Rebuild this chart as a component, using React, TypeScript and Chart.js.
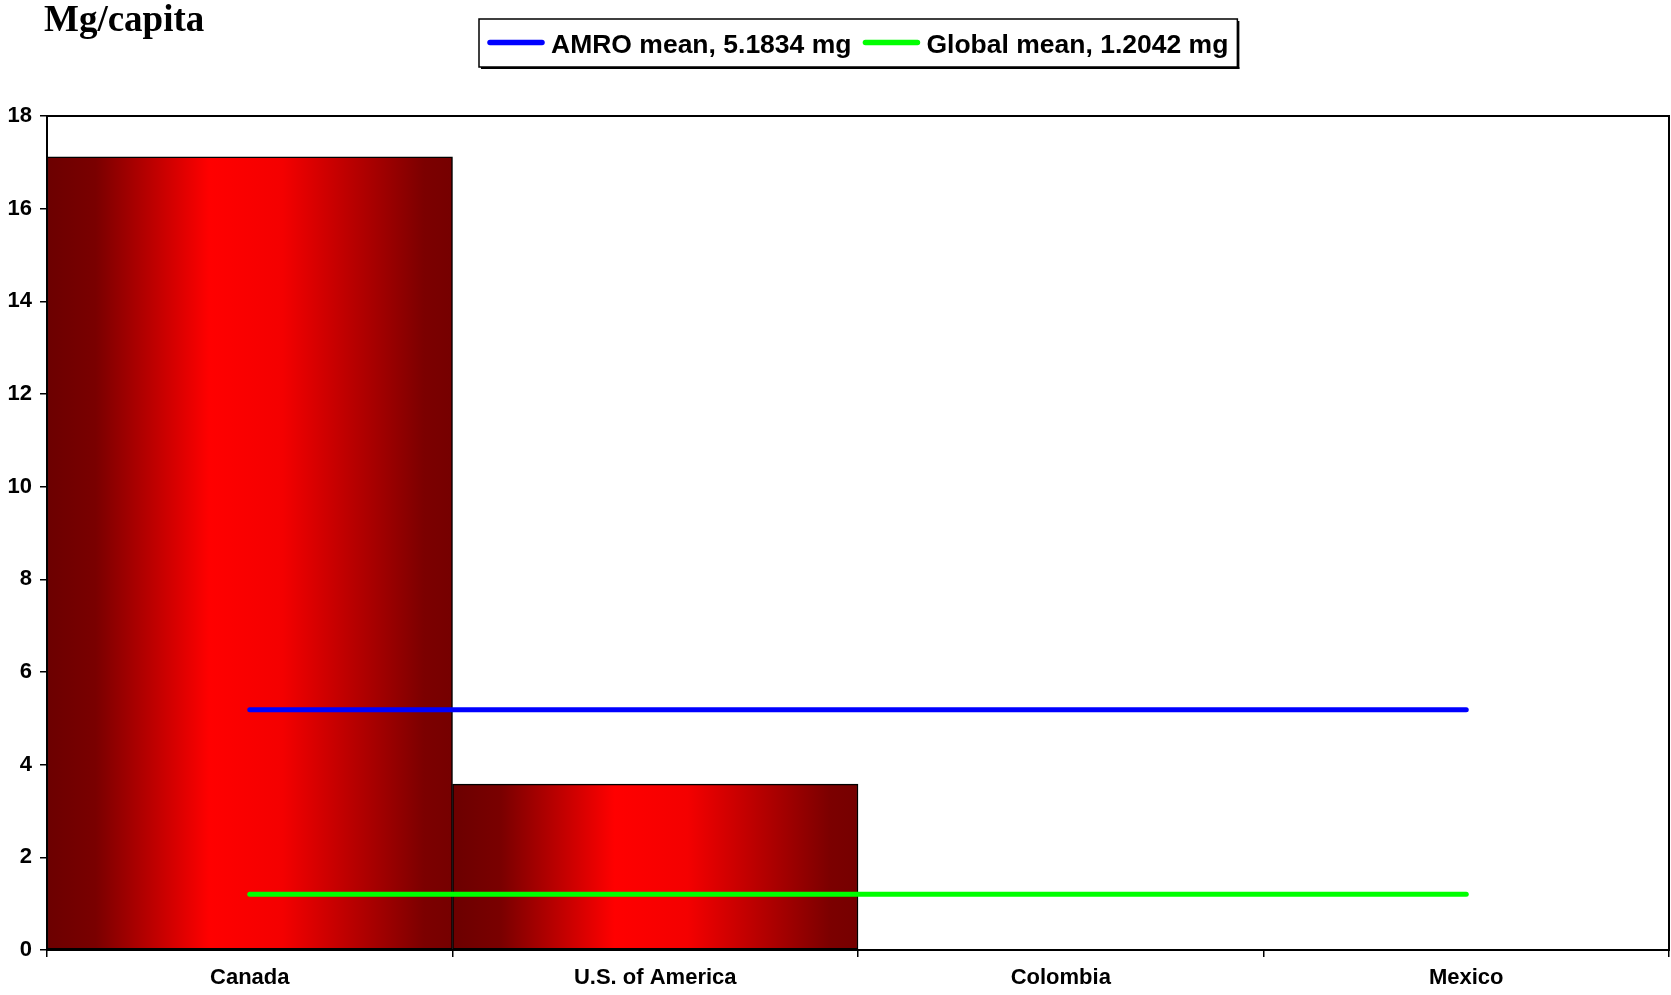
import React, { useEffect, useRef } from "react";
import { Chart, registerables } from "chart.js";

Chart.register(...registerables);

const categories = ["Canada", "U.S. of America", "Colombia", "Mexico"];
const barValues: (number | null)[] = [17.12, 3.58, null, null];
const amroMean = 5.1834;
const globalMean = 1.2042;
const amroValues = [amroMean, amroMean, amroMean, amroMean];
const globalValues = [globalMean, globalMean, globalMean, globalMean];
const seriesLabels = ["AMRO mean, 5.1834 mg", "Global mean, 1.2042 mg"];
const yTitle = "Mg/capita";
const yMin = 0;
const yMax = 18;
const yStep = 2;

const SANS = "'Liberation Sans', Arial, sans-serif";
const SERIF = "'Liberation Serif', 'Times New Roman', serif";

const W = 1671;
const H = 995;

export default function App() {
  const ref = useRef<HTMLCanvasElement | null>(null);

  useEffect(() => {
    const canvas = ref.current;
    if (!canvas) return;

    const framePlugin = {
      id: "frameAndLegend",
      afterDraw(chart: any) {
        const ctx = chart.ctx as CanvasRenderingContext2D;
        const a = chart.chartArea;
        ctx.save();
        // plot frame
        ctx.strokeStyle = "#000";
        ctx.lineWidth = 2;
        ctx.strokeRect(a.left, a.top, a.right - a.left, a.bottom - a.top);

        // title
        ctx.fillStyle = "#000";
        ctx.font = `bold 37px ${SERIF}`;
        ctx.textBaseline = "alphabetic";
        ctx.textAlign = "left";
        ctx.fillText(yTitle, 44, 31);

        // legend
        ctx.font = `bold 26.5px ${SANS}`;
        const sw = 58;
        const gap = 6;
        const itemGap = 11;
        const padL = 8;
        const padR = 9;
        const widths = seriesLabels.map((l) => ctx.measureText(l).width);
        let total = padL + padR;
        widths.forEach((w, i) => {
          total += sw + gap + w + (i < widths.length - 1 ? itemGap : 0);
        });
        const cx = (a.left + a.right) / 2;
        const bx = Math.round(cx - total / 2);
        const by = 19;
        const bh = 48;
        // shadow
        ctx.fillStyle = "#000";
        ctx.fillRect(bx + 2, by + bh, total, 2);
        ctx.fillRect(bx + total, by + 2, 2, bh);
        ctx.fillStyle = "#fff";
        ctx.fillRect(bx, by, total, bh);
        ctx.strokeStyle = "#000";
        ctx.lineWidth = 1.5;
        ctx.strokeRect(bx, by, total, bh);
        const colors = ["#0000ff", "#00ff00"];
        let x = bx + padL;
        const cy = 42.5;
        ctx.textBaseline = "alphabetic";
        widths.forEach((w, i) => {
          ctx.strokeStyle = colors[i];
          ctx.lineWidth = 5.5;
          ctx.lineCap = "round";
          ctx.beginPath();
          ctx.moveTo(x + 3, cy);
          ctx.lineTo(x + sw - 3, cy);
          ctx.stroke();
          ctx.fillStyle = "#000";
          ctx.fillText(seriesLabels[i], x + sw + gap, 52.5);
          x += sw + gap + w + itemGap;
        });
        ctx.restore();
      },
    };

    const barGradient = (context: any) => {
      const chart = context.chart;
      const xs = chart.scales?.x;
      if (!xs || !chart.chartArea) return "#cc0000";
      const i = context.dataIndex ?? 0;
      const half = (xs.getPixelForValue(1) - xs.getPixelForValue(0)) / 2;
      const c = xs.getPixelForValue(i);
      const l = c - half;
      const r = c + half;
      const g = chart.ctx.createLinearGradient(l, 0, r, 0);
      g.addColorStop(0, "#6c0000");
      g.addColorStop(0.12, "#7a0000");
      g.addColorStop(0.4, "#ff0000");
      g.addColorStop(0.58, "#f40000");
      g.addColorStop(0.93, "#7c0000");
      g.addColorStop(1, "#760000");
      return g;
    };

    const chart = new Chart(canvas, {
      type: "bar",
      data: {
        labels: categories,
        datasets: [
          {
            type: "line",
            label: seriesLabels[0],
            data: amroValues,
            borderColor: "#0000ff",
            backgroundColor: "#0000ff",
            borderWidth: 5,
            pointRadius: 0,
            borderCapStyle: "round",
            order: 1,
          } as any,
          {
            type: "line",
            label: seriesLabels[1],
            data: globalValues,
            borderColor: "#00ff00",
            backgroundColor: "#00ff00",
            borderWidth: 5,
            pointRadius: 0,
            borderCapStyle: "round",
            order: 2,
          } as any,
          {
            type: "bar",
            label: "Mg/capita",
            data: barValues,
            backgroundColor: barGradient,
            borderColor: "#000",
            borderWidth: 1.5,
            borderSkipped: false,
            barPercentage: 1,
            categoryPercentage: 1,
            order: 3,
          } as any,
        ],
      },
      options: {
        responsive: false,
        animation: false,
        devicePixelRatio: 1,
        layout: { padding: { top: 116, right: 2, left: 0, bottom: 0 } },
        plugins: {
          legend: { display: false },
          title: { display: false },
          tooltip: { enabled: false },
        },
        scales: {
          x: {
            type: "category",
            offset: true,
            afterFit: (s: any) => {
              s.height = 45;
            },
            grid: {
              offset: true,
              drawOnChartArea: false,
              drawTicks: true,
              tickLength: 7,
              color: "#000",
              lineWidth: 1.5,
            },
            border: { display: true, color: "#000", width: 2 },
            ticks: {
              color: "#000",
              font: { family: SANS, size: 22, weight: "bold" },
              padding: 8,
              maxRotation: 0,
              autoSkip: false,
            },
          },
          y: {
            min: yMin,
            max: yMax,
            afterFit: (s: any) => {
              s.width = 47;
            },
            grid: {
              drawOnChartArea: false,
              drawTicks: true,
              tickLength: 7,
              color: "#000",
              lineWidth: 1.5,
            },
            border: { display: true, color: "#000", width: 2 },
            ticks: {
              stepSize: yStep,
              color: "#000",
              font: { family: SANS, size: 22, weight: "bold" },
              padding: 8,
            },
          },
        },
      },
      plugins: [framePlugin],
    });

    return () => chart.destroy();
  }, []);

  return (
    <div style={{ position: "fixed", left: 0, top: 0, width: W, height: H, background: "#fff" }}>
      <canvas ref={ref} width={W} height={H} style={{ width: W, height: H, display: "block" }} />
    </div>
  );
}
